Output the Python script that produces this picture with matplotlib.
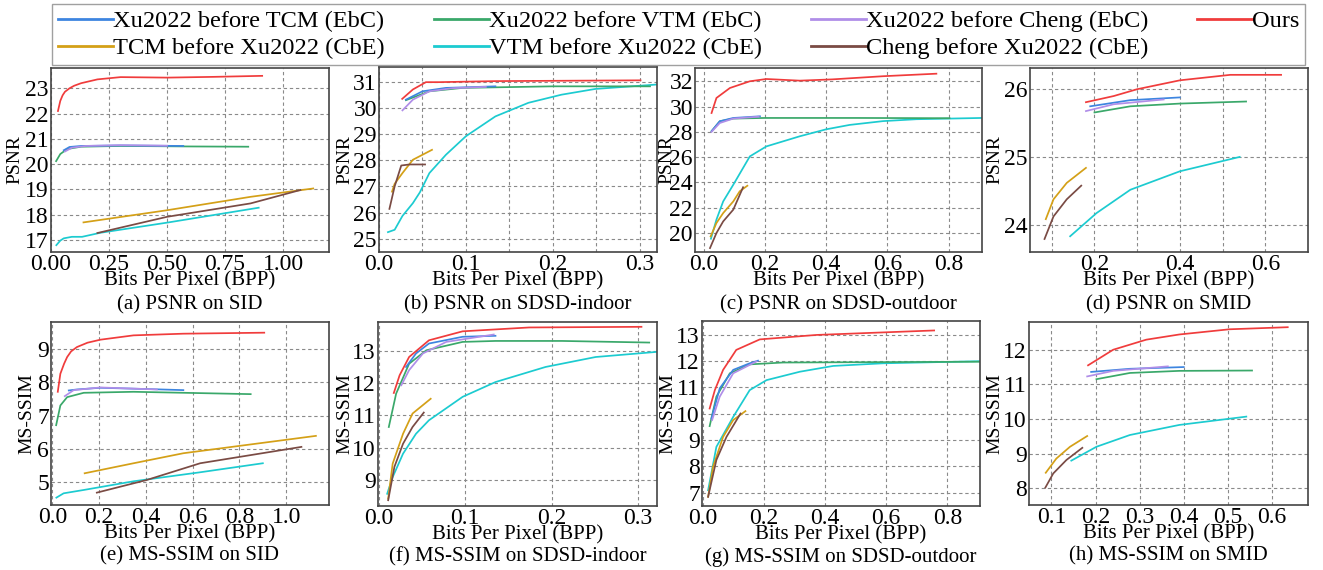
import matplotlib
matplotlib.use("Agg")
import matplotlib.pyplot as plt
import matplotlib.ticker as mtick

plt.rcParams["font.family"] = ["Liberation Serif", "DejaVu Serif"]

# 系列名と色
series_keys = ["xu_tcm", "xu_vtm", "xu_cheng", "ours", "tcm_xu", "vtm_xu", "cheng_xu"]
series_labels = {
    "xu_tcm": "Xu2022 before TCM (EbC)",
    "xu_vtm": "Xu2022 before VTM (EbC)",
    "xu_cheng": "Xu2022 before Cheng (EbC)",
    "ours": "Ours",
    "tcm_xu": "TCM before Xu2022 (CbE)",
    "vtm_xu": "VTM before Xu2022 (CbE)",
    "cheng_xu": "Cheng before Xu2022 (CbE)",
}
series_colors = {
    "xu_tcm": "#3d85e0",
    "xu_vtm": "#3aa86a",
    "xu_cheng": "#b08ee8",
    "ours": "#f03c3c",
    "tcm_xu": "#d4a017",
    "vtm_xu": "#1ccbd0",
    "cheng_xu": "#7a4b44",
}

# (a) PSNR on SID
psnr_sid = {
    "ours": ([0.03, 0.04, 0.05, 0.06, 0.08, 0.1, 0.13, 0.2, 0.3, 0.5, 0.7, 0.91],
             [22.1, 22.5, 22.72, 22.86, 23.0, 23.1, 23.2, 23.35, 23.44, 23.42, 23.45, 23.49]),
    "xu_vtm": ([0.022, 0.04, 0.07, 0.13, 0.3, 0.6, 0.85],
               [20.12, 20.4, 20.6, 20.69, 20.72, 20.7, 20.69]),
    "xu_tcm": ([0.055, 0.08, 0.13, 0.3, 0.57], [20.55, 20.68, 20.72, 20.74, 20.72]),
    "xu_cheng": ([0.06, 0.09, 0.15, 0.3, 0.5], [20.5, 20.65, 20.72, 20.75, 20.73]),
    "tcm_xu": ([0.14, 0.5, 0.86, 1.13], [17.7, 18.18, 18.71, 19.04]),
    "vtm_xu": ([0.023, 0.04, 0.055, 0.09, 0.134, 0.213, 0.5, 0.895],
               [16.8, 16.98, 17.07, 17.13, 17.13, 17.29, 17.69, 18.28]),
    "cheng_xu": ([0.2, 0.5, 0.86, 1.075], [17.28, 17.92, 18.45, 18.98]),
}

# (b) PSNR on SDSD-indoor
psnr_indoor = {
    "ours": ([0.0267, 0.039, 0.054, 0.069, 0.134, 0.301], [30.35, 30.71, 30.99, 30.99, 31.03, 31.06]),
    "xu_tcm": ([0.031, 0.05, 0.077, 0.134], [30.32, 30.64, 30.77, 30.83]),
    "xu_vtm": ([0.031, 0.058, 0.096, 0.2, 0.312], [30.3, 30.64, 30.77, 30.83, 30.83]),
    "xu_cheng": ([0.027, 0.039, 0.058, 0.085, 0.123], [29.91, 30.32, 30.64, 30.76, 30.81]),
    "vtm_xu": ([0.0103, 0.018, 0.027, 0.039, 0.047, 0.058, 0.077, 0.1, 0.134, 0.172, 0.21, 0.249, 0.32],
               [25.25, 25.34, 25.87, 26.36, 26.77, 27.51, 28.21, 28.92, 29.68, 30.2, 30.51, 30.73, 30.9]),
    "tcm_xu": ([0.015, 0.018, 0.027, 0.039, 0.061], [26.8, 27.1, 27.51, 28.02, 28.4]),
    "cheng_xu": ([0.012, 0.018, 0.0256, 0.035, 0.053], [26.14, 27.0, 27.8, 27.84, 27.84]),
}

# (c) PSNR on SDSD-outdoor
psnr_outdoor = {
    "ours": ([0.026, 0.042, 0.086, 0.151, 0.205, 0.314, 0.42, 0.586, 0.76],
             [29.49, 30.68, 31.47, 32.0, 32.18, 32.05, 32.15, 32.4, 32.6]),
    "xu_tcm": ([0.026, 0.053, 0.097, 0.184], [28.05, 28.84, 29.1, 29.23]),
    "xu_cheng": ([0.026, 0.053, 0.097, 0.18], [28.0, 28.7, 29.05, 29.2]),
    "xu_vtm": ([0.026, 0.053, 0.097, 0.2, 0.5, 0.803], [28.05, 28.84, 29.05, 29.1, 29.1, 29.08]),
    "vtm_xu": ([0.024, 0.042, 0.064, 0.097, 0.151, 0.205, 0.314, 0.40, 0.477, 0.586, 0.695, 0.909],
               [19.55, 21.06, 22.5, 23.82, 26.06, 26.85, 27.65, 28.2, 28.55, 28.85, 29.0, 29.1]),
    "tcm_xu": ([0.023, 0.042, 0.064, 0.097, 0.118, 0.143], [19.73, 20.79, 21.58, 22.5, 23.3, 23.74]),
    "cheng_xu": ([0.021, 0.042, 0.064, 0.097, 0.129], [18.81, 20.0, 20.92, 21.85, 23.62]),
}

# (d) PSNR on SMID
psnr_smid = {
    "ours": ([0.18, 0.245, 0.3, 0.4, 0.518, 0.637], [25.8, 25.89, 25.99, 26.12, 26.2, 26.2]),
    "xu_tcm": ([0.19, 0.284, 0.4], [25.74, 25.83, 25.87]),
    "xu_cheng": ([0.18, 0.245, 0.362], [25.67, 25.77, 25.84]),
    "xu_vtm": ([0.2, 0.284, 0.4, 0.555], [25.65, 25.74, 25.78, 25.81]),
    "vtm_xu": ([0.143, 0.205, 0.284, 0.4, 0.54], [23.84, 24.18, 24.52, 24.79, 25.0]),
    "tcm_xu": ([0.086, 0.104, 0.135, 0.18], [24.09, 24.38, 24.62, 24.84]),
    "cheng_xu": ([0.083, 0.104, 0.135, 0.169], [23.8, 24.13, 24.38, 24.58]),
}

# (e) MS-SSIM on SID
msssim_sid = {
    "ours": ([0.023, 0.034, 0.05, 0.063, 0.08, 0.105, 0.15, 0.205, 0.347, 0.56, 0.906],
             [7.71, 8.25, 8.55, 8.75, 8.92, 9.05, 9.18, 9.27, 9.4, 9.45, 9.48]),
    "xu_tcm": ([0.07, 0.105, 0.205, 0.418, 0.56], [7.75, 7.78, 7.83, 7.79, 7.76]),
    "xu_cheng": ([0.053, 0.091, 0.205, 0.447], [7.58, 7.76, 7.84, 7.78]),
    "xu_vtm": ([0.016, 0.034, 0.063, 0.134, 0.347, 0.848], [6.71, 7.3, 7.55, 7.68, 7.71, 7.64]),
    "tcm_xu": ([0.138, 0.347, 0.56, 1.127], [5.27, 5.57, 5.87, 6.39]),
    "vtm_xu": ([0.017, 0.048, 0.134, 0.347, 0.632, 0.9], [4.54, 4.67, 4.77, 5.03, 5.3, 5.57]),
    "cheng_xu": ([0.19, 0.404, 0.632, 1.065], [4.69, 5.07, 5.57, 6.06]),
}

# (f) MS-SSIM on SDSD-indoor
msssim_indoor = {
    "ours": ([0.0173, 0.024, 0.035, 0.058, 0.097, 0.174, 0.304],
             [11.7, 12.25, 12.82, 13.34, 13.62, 13.74, 13.76]),
    "xu_tcm": ([0.0315, 0.043, 0.058, 0.097, 0.135], [12.51, 12.93, 13.24, 13.45, 13.48]),
    "xu_cheng": ([0.026, 0.035, 0.051, 0.078, 0.133], [11.94, 12.41, 12.93, 13.29, 13.52]),
    "xu_vtm": ([0.0115, 0.02, 0.035, 0.055, 0.097, 0.135, 0.212, 0.313],
               [10.64, 11.68, 12.61, 13.03, 13.29, 13.32, 13.32, 13.27]),
    "vtm_xu": ([0.0096, 0.016, 0.028, 0.043, 0.058, 0.097, 0.135, 0.193, 0.251, 0.322],
               [8.56, 9.08, 9.81, 10.43, 10.85, 11.58, 12.04, 12.51, 12.82, 12.98]),
    "tcm_xu": ([0.0108, 0.016, 0.028, 0.039, 0.06], [8.41, 9.5, 10.43, 11.06, 11.52]),
    "cheng_xu": ([0.0108, 0.018, 0.028, 0.039, 0.052], [8.36, 9.4, 10.12, 10.64, 11.09]),
}

# (g) MS-SSIM on SDSD-outdoor
msssim_outdoor = {
    "ours": ([0.023, 0.04, 0.067, 0.11, 0.187, 0.373, 0.757], [10.2, 10.9, 11.67, 12.43, 12.83, 13.0, 13.17]),
    "xu_tcm": ([0.029, 0.056, 0.1, 0.154, 0.181], [9.82, 10.97, 11.67, 11.92, 12.02]),
    "xu_cheng": ([0.031, 0.056, 0.1, 0.154, 0.176], [9.76, 10.65, 11.54, 11.86, 11.99]),
    "xu_vtm": ([0.023, 0.045, 0.089, 0.154, 0.263, 0.907], [9.53, 10.65, 11.54, 11.88, 11.95, 11.98]),
    "vtm_xu": ([0.018, 0.045, 0.1, 0.154, 0.209, 0.318, 0.427, 0.59, 0.907],
               [7.09, 8.74, 9.88, 10.9, 11.28, 11.6, 11.82, 11.92, 12.0]),
    "tcm_xu": ([0.018, 0.034, 0.067, 0.1, 0.14], [6.84, 7.98, 9.12, 9.76, 10.1]),
    "cheng_xu": ([0.018, 0.045, 0.078, 0.124], [6.84, 8.24, 9.12, 10.01]),
}

# (h) MS-SSIM on SMID
msssim_smid = {
    "ours": ([0.183, 0.24, 0.315, 0.39, 0.504, 0.636], [11.55, 12.0, 12.29, 12.44, 12.59, 12.65]),
    "xu_tcm": ([0.19, 0.278, 0.4], [11.36, 11.45, 11.5]),
    "xu_cheng": ([0.181, 0.24, 0.364], [11.23, 11.39, 11.52]),
    "xu_vtm": ([0.202, 0.278, 0.39, 0.555], [11.15, 11.33, 11.39, 11.4]),
    "vtm_xu": ([0.145, 0.202, 0.278, 0.39, 0.542], [8.8, 9.2, 9.54, 9.83, 10.07]),
    "tcm_xu": ([0.087, 0.111, 0.142, 0.181], [8.45, 8.86, 9.2, 9.51]),
    "cheng_xu": ([0.086, 0.104, 0.134, 0.17], [8.02, 8.43, 8.82, 9.17]),
}

# パネル設定: データ, キャプション, y名, xlim, ylim, x目盛, x補助格子, y目盛, x書式, 位置(px), y名のずれ(px)
panels = [
    (psnr_sid, "(a) PSNR on SID", "PSNR", (0, 1.198), (16.53, 23.8),
     [0, 0.25, 0.5, 0.75, 1.0], [], range(17, 24), "%.2f", (51, 68, 329, 252), 36),
    (psnr_indoor, "(b) PSNR on SDSD-indoor", "PSNR", (0, 0.32), (24.49, 31.57),
     [0, 0.1, 0.2, 0.3], [0.05, 0.15, 0.25], range(25, 32), "%.1f", (379, 67, 657, 252), 34),
    (psnr_outdoor, "(c) PSNR on SDSD-outdoor", "PSNR", (-0.028, 0.909), (18.5, 33.05),
     [0, 0.2, 0.4, 0.6, 0.8], [], range(20, 33, 2), "%.1f", (695, 68, 982, 252), 28),
    (psnr_smid, "(d) PSNR on SMID", "PSNR", (0.049, 0.70), (23.61, 26.30),
     [0.2, 0.4, 0.6], [0.1, 0.3, 0.5], [24, 25, 26], "%.1f", (1030, 68, 1308, 252), 35),
    (msssim_sid, "(e) MS-SSIM on SID", "MS-SSIM", (-0.006, 1.183), (4.32, 9.8),
     [0, 0.2, 0.4, 0.6, 0.8, 1.0], [], range(5, 10), "%.1f", (51, 322, 329, 505), 24),
    (msssim_indoor, "(f) MS-SSIM on SDSD-indoor", "MS-SSIM", (-0.001, 0.322), (8.18, 13.91),
     [0, 0.1, 0.2, 0.3], [], range(9, 14), "%.1f", (378, 322, 657, 506), 33),
    (msssim_outdoor, "(g) MS-SSIM on SDSD-outdoor", "MS-SSIM", (-0.002, 0.907), (6.49, 13.53),
     [0, 0.2, 0.4, 0.6, 0.8], [], range(7, 14), "%.1f", (702, 321, 980, 506), 34),
    (msssim_smid, "(h) MS-SSIM on SMID", "MS-SSIM", (0.049, 0.682), (7.52, 12.80),
     [0.1, 0.2, 0.3, 0.4, 0.5, 0.6], [], range(8, 13), "%.1f", (1029, 322, 1308, 505), 34),
]

W, H = 1323, 570
fig = plt.figure(figsize=(W / 100, H / 100), dpi=100, facecolor="white")

draw_order = ["vtm_xu", "tcm_xu", "cheng_xu", "xu_vtm", "xu_tcm", "xu_cheng", "ours"]
handles = {}

for data, caption, ylab, xlim, ylim, xt, xminor, yt, xfmt, (l, t, r, b), ydx in panels:
    ax = fig.add_axes([l / W, 1 - b / H, (r - l) / W, (b - t) / H])
    for key in draw_order:
        xs, ys = data[key]
        line, = ax.plot(xs, ys, color=series_colors[key], lw=1.25, label=series_labels[key])
        handles[key] = line
    ax.set_xlim(*xlim)
    ax.set_ylim(*ylim)
    ax.set_xticks(xt)
    ax.set_xticks(xminor, minor=True)
    ax.set_yticks(list(yt))
    ax.xaxis.set_major_formatter(mtick.FormatStrFormatter(xfmt))
    ax.tick_params(which="both", length=0, labelsize=17, pad=1.5)
    ax.grid(True, which="both", linestyle=(0, (3, 2.5)), color="#8a8a8a", linewidth=0.8)
    for sp in ax.spines.values():
        sp.set_color("#444444")
        sp.set_linewidth(1.2)

    h = b - t
    ax.set_xlabel("Bits Per Pixel (BPP)", fontsize=15, va="center")
    ax.xaxis.set_label_coords(0.5, -28.5 / h)
    ax.set_ylabel(ylab, fontsize=14, va="center")
    ax.yaxis.set_label_coords(-ydx / (r - l), 0.5)
    ax.text(0.5, -(53 if t < 300 else 51) / h, caption, fontsize=15,
            ha="center", va="center", transform=ax.transAxes)

# 凡例 (上段4列、下段3列)
legend_order = ["xu_tcm", "tcm_xu", "xu_vtm", "vtm_xu", "xu_cheng", "cheng_xu", "ours"]
leg = fig.legend([handles[k] for k in legend_order], [series_labels[k] for k in legend_order],
                 ncol=4, loc="upper left", bbox_to_anchor=(52 / W, 1 - 4 / H),
                 fontsize=17.6, frameon=True, fancybox=False, edgecolor="#888888",
                 handlelength=2.25, handletextpad=0.0, columnspacing=2.0,
                 labelspacing=0.2, borderpad=0.25, borderaxespad=0)
for lh in leg.get_lines():
    lh.set_linewidth(2)
leg.get_frame().set_linewidth(1.0)

fig.savefig("out.png", dpi=100, facecolor="white")
